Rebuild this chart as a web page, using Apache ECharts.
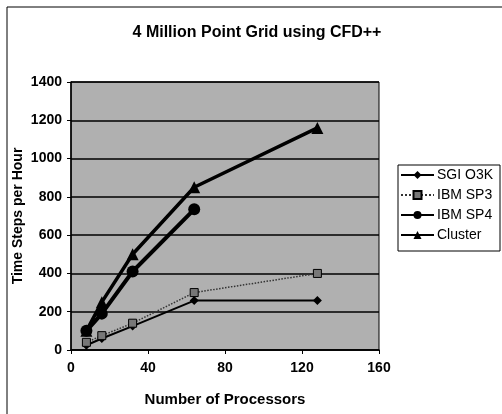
<!DOCTYPE html>
<html><head><meta charset="utf-8">
<script src="https://cdn.jsdelivr.net/npm/echarts@6/dist/echarts.min.js"></script>
<style>html,body{margin:0;padding:0;background:#fff}#c{width:502px;height:414px}</style>
</head><body><div id="c"></div>
<script>
const processors = [8, 16, 32, 64, 128];
const sgiO3K = [25, 60, 125, 258, 258];
const ibmSP3 = [40, 75, 140, 300, 400];
const ibmSP4 = [100, 190, 410, 735];
const cluster = [100, 250, 500, 850, 1160];
const seriesNames = ['SGI O3K', 'IBM SP3', 'IBM SP4', 'Cluster'];

const pairs = arr => arr.map((v, i) => [processors[i], v]);
const font = 'Liberation Sans, Arial, sans-serif';
const chart = echarts.init(document.getElementById('c'));
chart.setOption({
  animation: false,
  backgroundColor: '#fff',
  title: {text: '4 Million Point Grid using CFD++', left: 252, top: 20, textAlign: 'center',
    textStyle: {fontFamily: font, fontSize: 16, fontWeight: 'bold', color: '#000'}},
  graphic: [{type: 'rect', shape: {x: 7, y: 7, width: 520, height: 430},
    style: {fill: 'none', stroke: '#000', lineWidth: 1}, z: -1},
    {type: 'rect', shape: {x: 398, y: 165, width: 102, height: 86},
    style: {fill: '#fff', stroke: '#000', lineWidth: 1}, z: 0}],
  grid: {left: 71, right: 123, top: 82, bottom: 64, show: true, backgroundColor: '#b0b0b0',
    borderColor: '#000', borderWidth: 1, containLabel: false, outerBoundsMode: 'none'},
  legend: {orient: 'vertical', left: 400, top: 168, itemWidth: 33, itemHeight: 10, itemGap: 6, padding: 0,
    data: seriesNames, textStyle: {fontFamily: font, fontSize: 14, color: '#000', padding: [0, 0, 0, -2]}, z: 5},
  xAxis: {type: 'value', min: 0, max: 160, interval: 40,
    name: 'Number of Processors', nameLocation: 'middle', nameGap: 42, nameMoveOverlap: false,
    nameTextStyle: {fontFamily: font, fontSize: 15, fontWeight: 'bold', color: '#000'},
    axisLine: {lineStyle: {color: '#000', width: 1.5}}, axisTick: {show: true, length: 4, lineStyle: {color: '#000'}},
    axisLabel: {fontFamily: font, fontSize: 14, fontWeight: 'bold', color: '#000', margin: 11},
    splitLine: {show: false}},
  yAxis: {type: 'value', min: 0, max: 1400, interval: 200,
    name: 'Time Steps per Hour', nameLocation: 'middle', nameGap: 46, nameMoveOverlap: false,
    nameTextStyle: {fontFamily: font, fontSize: 14, fontWeight: 'bold', color: '#000'},
    axisLine: {show: true, lineStyle: {color: '#000', width: 1.5}}, axisTick: {show: true, length: 4, lineStyle: {color: '#000'}},
    axisLabel: {fontFamily: font, fontSize: 14, fontWeight: 'bold', color: '#000', margin: 9,
      formatter: v => String(v)},
    splitLine: {show: true, lineStyle: {color: '#000', width: 1.5}}},
  series: [
    {name: seriesNames[0], type: 'line', data: pairs(sgiO3K), symbol: 'diamond', symbolSize: 9,
     lineStyle: {color: '#000', width: 2}, itemStyle: {color: '#000'}},
    {name: seriesNames[1], type: 'line', data: pairs(ibmSP3), symbol: 'rect', symbolSize: 8,
     lineStyle: {color: '#333', width: 1.5, type: 'dotted'}, itemStyle: {color: '#777', borderColor: '#000', borderWidth: 1}},
    {name: seriesNames[2], type: 'line', data: pairs(ibmSP4), symbol: 'circle', symbolSize: 12,
     lineStyle: {color: '#000', width: 4}, itemStyle: {color: '#000'}},
    {name: seriesNames[3], type: 'line', data: pairs(cluster), symbol: 'triangle', symbolSize: 12,
     lineStyle: {color: '#000', width: 3.5}, itemStyle: {color: '#000'}}
  ]
});
</script></body></html>
